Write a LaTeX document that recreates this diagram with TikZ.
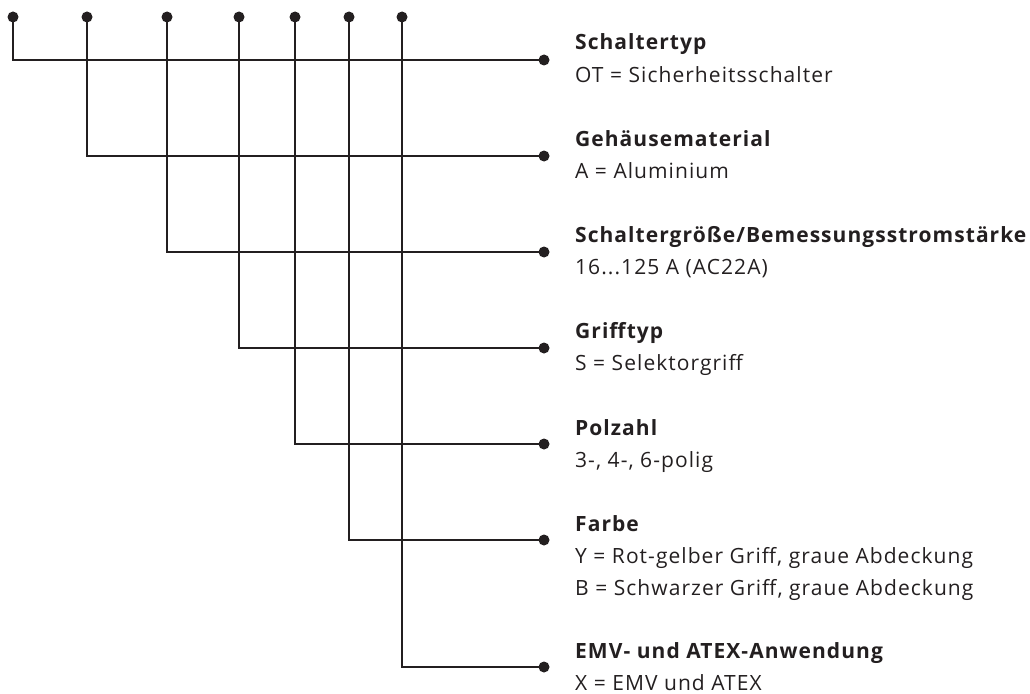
\documentclass[tikz,border=0pt]{standalone}
\usepackage{fontspec}
\setmainfont[LetterSpace=5]{Open Sans}
\usetikzlibrary{positioning}
\definecolor{ink}{HTML}{231F20}

\begin{document}
\begin{tikzpicture}[x=1pt, y=-1pt]
    \tikzset{dot/.style={
        circle,
        fill=ink,
        inner sep=0pt,
        minimum size=11pt
    }}
    \tikzset{wire/.style={
        line width=2.2pt,
        ink,
        line join=miter
    }}
    \tikzset{head/.style={anchor=base west, inner sep=0pt, text=ink, font=\bfseries\fontsize{21}{32}\selectfont}}
    \tikzset{body/.style={anchor=base west, inner sep=0pt, text=ink, align=left, font=\fontsize{21}{32}\selectfont}}
    \useasboundingbox (0,0) rectangle (1030,693);

    % leads from the code letters down to the entries
    \foreach \i/\xx/\yy in {1/13/60, 2/87/156, 3/167/252, 4/239/348, 5/295/444, 6/349/540, 7/402/667} {
        \node[dot] (top\i) at (\xx,17) {};
        \node[dot] (end\i) at (544,\yy) {};
        \draw[wire] (top\i.center) |- (end\i.center);
    }

    \node[head] (type) at (575,50) {Schaltertyp};
    \node[body] (typeval) at (575,82) {OT = Sicherheitsschalter};

    \node[head] (housing) at (575,146) {Gehäusematerial};
    \node[body] (housingval) at (575,178) {A = Aluminium};

    \node[head] (size) at (575,242) {Schaltergröße/Bemessungsstromstärke};
    \node[body] (sizeval) at (575,274) {16...125 A (AC22A)};

    \node[head] (handle) at (575,338) {Grifftyp};
    \node[body] (handleval) at (575,370) {S = Selektorgriff};

    \node[head] (poles) at (575,435) {Polzahl};
    \node[body] (polesval) at (575,467) {3-, 4-, 6-polig};

    \node[head] (colour) at (575,531) {Farbe};
    % base of a two-line node sits on its last line
    \node[body] (colourval) at (575,595) {Y = Rot-gelber Griff, graue Abdeckung\\B = Schwarzer Griff, graue Abdeckung};

    \node[head] (emc) at (575,658) {EMV- und ATEX-Anwendung};
    \node[body] (emcval) at (575,690) {X = EMV und ATEX};
\end{tikzpicture}
\end{document}
